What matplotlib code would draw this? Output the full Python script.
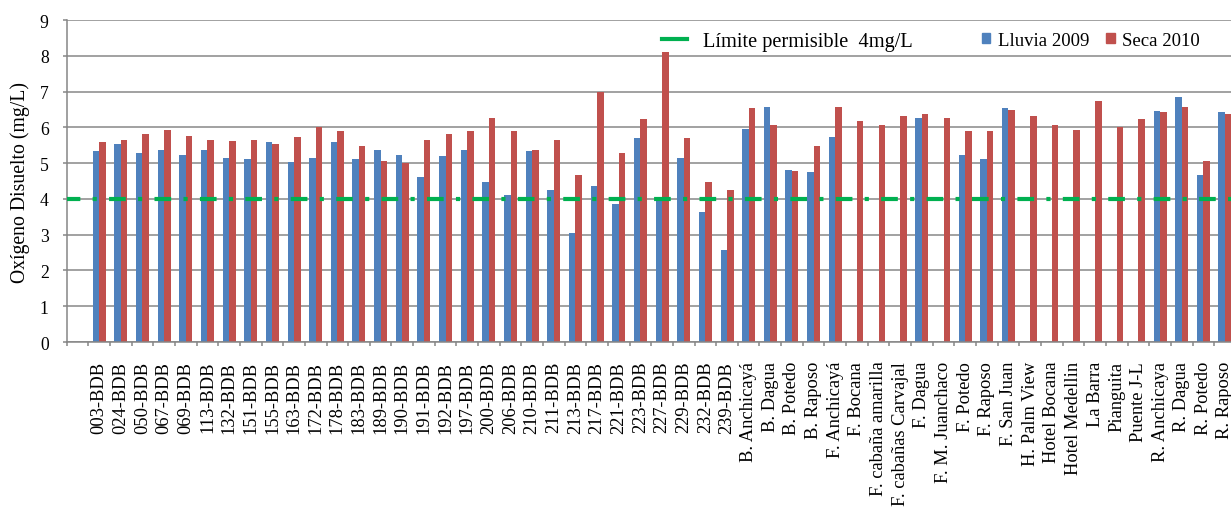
import numpy as np
import matplotlib
matplotlib.use("Agg")
import matplotlib.pyplot as plt
from matplotlib.lines import Line2D
from matplotlib.patches import Patch

plt.rcParams['font.family'] = ['Liberation Serif', 'DejaVu Serif']

nan = np.nan

categorias = ["", "003-BDB", "024-BDB", "050-BDB", "067-BDB", "069-BDB", "113-BDB",
              "132-BDB", "151-BDB", "155-BDB", "163-BDB", "172-BDB", "178-BDB",
              "183-BDB", "189-BDB", "190-BDB", "191-BDB", "192-BDB", "197-BDB",
              "200-BDB", "206-BDB", "210-BDB", "211-BDB", "213-BDB", "217-BDB",
              "221-BDB", "223-BDB", "227-BDB", "229-BDB", "232-BDB", "239-BDB",
              "B. Anchicayá", "B. Dagua", "B. Potedo", "B. Raposo", "F. Anchicayá",
              "F. Bocana", "F. cabaña amarilla", "F. cabañas Carvajal", "F. Dagua",
              "F. M. Juanchaco", "F. Potedo", "F. Raposo", "F. San Juan",
              "H. Palm View", "Hotel Bocana", "Hotel Medellin", "La Barra",
              "Pianguita", "Puente J-L", "R. Anchicaya", "R. Dagua", "R. Potedo",
              "R. Raposo"]

lluvia_2009 = [nan, 5.35, 5.53, 5.27, 5.38, 5.23, 5.38, 5.15, 5.11, 5.58, 5.04,
               5.15, 5.58, 5.11, 5.38, 5.23, 4.62, 5.20, 5.38, 4.47, 4.12,
               5.35, 4.24, 3.05, 4.35, 3.85, 5.69, 4.00, 5.15, 3.63, 2.56,
               5.96, 6.57, 4.81, 4.74, 5.73, nan, nan, nan, 6.26,
               nan, 5.23, 5.11, 6.53, nan, nan, nan, nan, nan,
               nan, 6.46, 6.84, 4.66, 6.42]

seca_2010 = [nan, 5.58, 5.65, 5.81, 5.92, 5.77, 5.65, 5.62, 5.65, 5.53, 5.74,
             6.00, 5.89, 5.47, 5.07, 5.00, 5.65, 5.81, 5.89, 6.27, 5.89,
             5.38, 5.65, 4.66, 7.00, 5.27, 6.23, 8.10, 5.69, 4.47, 4.24,
             6.53, 6.07, 4.78, 5.47, 6.57, 6.18, 6.07, 6.31, 6.37,
             6.26, 5.89, 5.89, 6.49, 6.31, 6.07, 5.92, 6.73, 6.00,
             6.23, 6.42, 6.57, 5.05, 6.37]

limite = 4
yticks = list(range(0, 10))

W, H = 1231, 510
fig = plt.figure(figsize=(W / 100, H / 100), dpi=100)
slot = 21.65
ax = fig.add_axes([66.7 / W, (H - 343) / H, len(categorias) * slot / W, (343 - 21) / H])

x = np.arange(len(categorias))
b1 = ax.bar(x - 0.15, lluvia_2009, 0.3, color='#4f81bd', zorder=2)
b2 = ax.bar(x + 0.15, seca_2010, 0.3, color='#c0504d', zorder=2)

ax.axhline(limite, color='#00b050', lw=3, zorder=3,
           linestyle=(0.8, (4.0, 2.95, 1.0, 2.95)))

ax.set_xlim(-0.5, len(categorias) - 0.5)
ax.set_ylim(0, 9)
ax.set_yticks(yticks)

ax.yaxis.grid(True, color='#878787', lw=1.1)
ax.set_axisbelow(True)
for s in ['top', 'right']:
    ax.spines[s].set_visible(False)
for s in ['left', 'bottom']:
    ax.spines[s].set_color('#868686')
    ax.spines[s].set_linewidth(1.1)

ax.set_xticks(x)
ax.set_xticklabels(categorias, rotation=90, fontsize=13.3)
ax.set_xticks(np.arange(-0.5, len(categorias), 1), minor=True)
ax.tick_params(axis='x', which='major', length=0, pad=13.5)
ax.tick_params(axis='x', which='minor', length=3, color='#868686', width=1.1)
ax.tick_params(axis='y', length=3, color='#868686', width=1.1, labelsize=12.7, pad=10)

ax.set_ylabel("Oxígeno Disuelto (mg/L)", fontsize=14.2)
ax.yaxis.set_label_coords(-0.031, 0.5)

leg1 = fig.legend(handles=[Line2D([], [], color='#00b050', lw=3)],
                  labels=["Límite permisible  4mg/L"],
                  loc='center left', bbox_to_anchor=(662 / W, 1 - 42 / H),
                  frameon=False, borderpad=0, borderaxespad=0,
                  handlelength=1.23, handletextpad=0.8, fontsize=14.7)
leg2 = fig.legend(handles=[Patch(color='#4f81bd'), Patch(color='#c0504d')],
                  labels=["Lluvia 2009", "Seca 2010"], ncol=2,
                  loc='center left', bbox_to_anchor=(982 / W, 1 - 41 / H),
                  frameon=False, borderpad=0, borderaxespad=0,
                  handlelength=0.45, handleheight=0.45, handletextpad=0.4,
                  columnspacing=0.9, fontsize=13.5)

fig.savefig("out.png", dpi=100)
